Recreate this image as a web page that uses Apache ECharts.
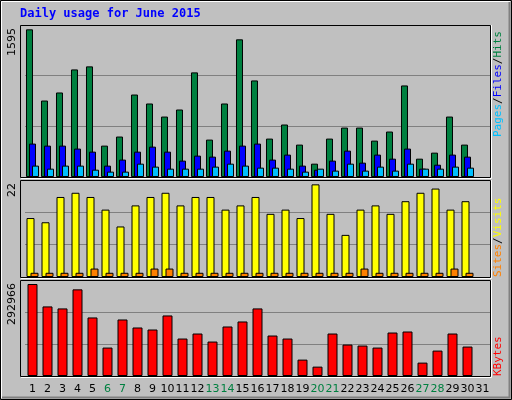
<!DOCTYPE html>
<html><head><meta charset="utf-8">
<script src="https://cdn.jsdelivr.net/npm/echarts@6/dist/echarts.min.js"></script>
<style>html,body{margin:0;padding:0;background:#c0c0c0}#c{width:512px;height:400px}</style>
</head><body><div id="c"></div>
<script>
const days = ['1','2','3','4','5','6','7','8','9','10','11','12','13','14','15','16','17','18','19','20','21','22','23','24','25','26','27','28','29','30','31'];
const weekendDays = ['6','7','13','14','20','21','27','28'];
const hits = [1595,826,913,1162,1195,339,437,891,794,653,729,1130,404,794,1487,1043,415,567,350,144,415,534,534,393,491,989,198,263,653,350,null];
const files = [361,339,339,307,274,123,188,274,328,274,177,231,220,285,339,361,188,242,123,79,177,285,155,242,198,307,90,133,242,220,null];
const pages = [123,90,123,123,79,58,58,144,112,90,90,90,112,144,123,101,101,90,58,90,69,144,69,112,69,144,90,90,112,101,null];
const visits = [14,13,19,20,19,16,12,17,19,20,17,19,19,16,17,19,15,16,14,22,15,10,16,17,15,18,20,21,16,18,null];
const sites = [1,1,1,1,2,1,1,1,2,2,1,1,1,1,1,1,1,1,1,1,1,1,2,1,1,1,1,1,2,1,null];
const kbytes = [292966,221582,215190,275917,186428,90550,180036,154469,148077,192820,119314,135294,109727,157665,173645,215190,128902,119314,52200,29829,135294,100139,96943,90550,138490,141686,42612,80965,135294,93747,null];
const maxLabels = ['1595','22','292966'];
const title = 'Daily usage for June 2015';

const chart = echarts.init(document.getElementById('c'), null, {renderer:'canvas'});
const panels = [{top:25,h:152,ratio:455/442,max:1595},{top:180,h:97,ratio:290/277,max:22},{top:280,h:96,ratio:287/275,max:292966}];
const grids = panels.map(p=>({left:25,width:465,top:p.top,height:p.h}));
const xAxes = panels.map((p,i)=>({type:'category',gridIndex:i,data:days,axisLine:{show:false},axisTick:{show:false},
  axisLabel:{show:i===2,interval:0,margin:8,fontFamily:'DejaVu Sans',fontSize:11,
    color:(v)=>weekendDays.includes(v)?'#008040':'#000000'}}));
const yAxes = panels.map((p,i)=>{const m=p.max*p.ratio;return {type:'value',gridIndex:i,min:0,max:m,interval:m/3,
  axisLabel:{show:false},axisLine:{show:false},axisTick:{show:false},splitLine:{lineStyle:{color:'#808080',width:1}}};});
const bs = {borderColor:'#000',borderWidth:1};
const series = [
 {type:'bar',name:'Hits',xAxisIndex:0,yAxisIndex:0,data:hits,barWidth:7,barGap:'-57%',itemStyle:{color:'#008040',...bs}},
 {type:'bar',name:'Files',xAxisIndex:0,yAxisIndex:0,data:files,barWidth:7,barGap:'-57%',itemStyle:{color:'#0000ff',...bs}},
 {type:'bar',name:'Pages',xAxisIndex:0,yAxisIndex:0,data:pages,barWidth:7,barGap:'-57%',itemStyle:{color:'#00c0ff',...bs}},
 {type:'bar',name:'Visits',xAxisIndex:1,yAxisIndex:1,data:visits,barWidth:8,barGap:'-50%',itemStyle:{color:'#ffff00',...bs}},
 {type:'bar',name:'Sites',xAxisIndex:1,yAxisIndex:1,data:sites,barWidth:8,barGap:'-50%',itemStyle:{color:'#ff8000',...bs}},
 {type:'bar',name:'KBytes',xAxisIndex:2,yAxisIndex:2,data:kbytes,barWidth:10,itemStyle:{color:'#ff0000',...bs}}
];
const frameTops=[25,180,280], frameBots=[177,277,376];
const graphics = [
 {type:'rect',shape:{x:0.5,y:0.5,width:511,height:399},style:{fill:'#c0c0c0',stroke:'#000'},z:-10},
 {type:'polyline',shape:{points:[[1.5,398],[1.5,1.5],[510,1.5]]},style:{stroke:'#ffffff',lineWidth:1,fill:null},z:-9},
 {type:'polyline',shape:{points:[[2,397.5],[509.5,397.5],[509.5,2]]},style:{stroke:'#808080',lineWidth:2,fill:null},z:-9},
 {type:'text',left:20,top:8,style:{text:title,fill:'#0000ff',font:'bold 12px "DejaVu Sans Mono"'}}
];
frameTops.forEach((t,i)=>{
  graphics.push({type:'rect',shape:{x:20.5,y:t+0.5,width:470,height:frameBots[i]-t},style:{fill:null,stroke:'#000'},z:5});
  graphics.push({type:'polyline',shape:{points:[[21,frameBots[i]+1.5],[491.5,frameBots[i]+1.5],[491.5,t]]},style:{stroke:'#ffffff',fill:null},z:5});
});
const maxY=[28,183,283];
maxLabels.forEach((s,i)=>graphics.push({type:'text',x:7,y:maxY[i],rotation:Math.PI/2,
  style:{text:s,fill:'#000',font:'11px "DejaVu Sans"',align:'right',verticalAlign:'top'}}));
function vlegend(parts,yb){
  graphics.push({type:'text',x:493,y:yb,rotation:Math.PI/2,
    style:{rich:{a:{fill:parts[0][1],font:'11px "DejaVu Sans Mono"'},b:{fill:parts[1]?parts[1][1]:'#000',font:'11px "DejaVu Sans Mono"'},
      c:{fill:parts[2]?parts[2][1]:'#000',font:'11px "DejaVu Sans Mono"'},s:{fill:'#000',font:'11px "DejaVu Sans Mono"'}},
      text:parts.map((p,k)=>'{'+'abc'[k]+'|'+p[0]+'}').join('{s|/}'),align:'left',verticalAlign:'top'}});
}
vlegend([['Pages','#00c0ff'],['Files','#0000ff'],['Hits','#008040']],137);
vlegend([['Sites','#ff8000'],['Visits','#ffff00']],277);
vlegend([['KBytes','#ff0000']],376);
chart.setOption({animation:false,backgroundColor:'#c0c0c0',grid:grids,xAxis:xAxes,yAxis:yAxes,series,graphic:graphics});
</script></body></html>
